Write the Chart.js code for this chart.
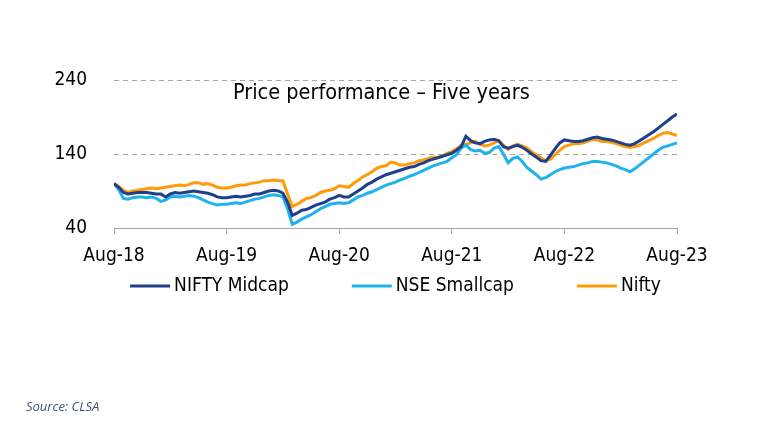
<!DOCTYPE html>
<html>
<head>
<meta charset="utf-8">
<script src="https://cdn.jsdelivr.net/npm/chart.js@4"></script>
<style>
  body { margin: 0; background: #fff; }
  #wrap { position: relative; width: 760px; height: 428px; }
  #source {
    position: absolute; left: 26px; top: 397px;
    font: italic 13px "Open Sans", "Liberation Sans", sans-serif;
    color: #44546A;
  }
</style>
</head>
<body>
<div id="wrap">
  <canvas id="myChart" width="760" height="428"></canvas>
  <div id="source">Source: CLSA</div>
</div>
<script>
// values rebased to 100 at Aug-18, read every half month
const tickLabels = ['Aug-18', 'Aug-19', 'Aug-20', 'Aug-21', 'Aug-22', 'Aug-23']
const seriesNames = ['NIFTY Midcap', 'NSE Smallcap', 'Nifty']
const seriesColors = ['#1F3F8A', '#1EB2EE', '#FF9A0A']

const midcap = [
  100, 95, 88, 86, 87, 88, 88, 88, 87, 86, 86, 82, 86, 88, 87, 88, 89, 90, 89, 88, 87, 85, 82, 81,
  81, 82, 83, 82, 83, 84, 86, 86, 88, 90, 91, 90, 87, 75, 57, 60, 64, 65, 68, 71, 73, 75, 79, 81,
  84, 82, 82, 86, 90, 94, 99, 102, 106, 109, 112, 114, 116, 118, 120, 122, 123, 126, 128, 131, 133, 135, 137, 139,
  141, 145, 150, 164, 158, 155, 154, 157, 159, 160, 158, 150, 148, 150, 152, 149, 145, 140, 136, 131, 130, 138, 147, 155,
  159, 158, 157, 157, 158, 160, 162, 163, 161, 160, 159, 157, 155, 153, 152, 154, 158, 162, 166, 170, 175, 180, 185, 190,
  194
]
const smallcap = [
  100, 92, 80, 79, 81, 82, 82, 81, 82, 80, 76, 78, 82, 83, 82, 83, 84, 83, 81, 78, 75, 73, 71, 72,
  72, 73, 74, 73, 75, 77, 79, 80, 82, 84, 85, 84, 82, 66, 45, 48, 52, 55, 58, 62, 66, 69, 72, 73,
  74, 73, 74, 78, 82, 84, 87, 89, 92, 95, 98, 100, 102, 105, 107, 110, 112, 115, 118, 121, 124, 126, 128, 130,
  135, 139, 148, 152, 146, 144, 145, 141, 142, 148, 150, 140, 128, 134, 136, 130, 122, 117, 112, 106, 108, 112, 116, 119,
  121, 122, 123, 125, 127, 128, 130, 130, 129, 128, 126, 124, 121, 119, 116, 120, 125, 130, 135, 140, 145, 149, 151, 153,
  155
]
const nifty = [
  100, 96, 91, 88, 90, 91, 92, 93, 94, 93, 94, 95, 96, 97, 98, 97, 99, 101, 101, 99, 100, 98, 95, 94,
  94, 95, 97, 98, 98, 100, 101, 102, 104, 104, 105, 104, 104, 86, 69, 72, 76, 80, 81, 84, 88, 90, 91, 93,
  97, 96, 95, 100, 104, 109, 112, 116, 121, 123, 124, 129, 128, 125, 125, 127, 128, 131, 132, 134, 136, 135, 137, 141,
  143, 147, 152, 153, 155, 157, 153, 151, 152, 155, 158, 152, 146, 151, 153, 151, 148, 143, 139, 135, 131, 133, 139, 145,
  150, 152, 154, 154, 155, 157, 160, 159, 157, 157, 156, 154, 152, 150, 149, 150, 152, 155, 158, 161, 165, 168, 169, 167,
  165
]

const FONT = '"DejaVu Sans Condensed", "Liberation Sans", sans-serif'
const GREY = '#A6A6A6'

const toPoints = values => values.map((v, i) => ({ x: i / 2, y: v }))

// title sits inside the plot, legend is a row of short lines under the axis
const overlay = {
  id: 'overlay',
  afterDraw(chart) {
    const { ctx, chartArea } = chart
    ctx.save()
    ctx.fillStyle = '#000'
    ctx.textBaseline = 'middle'
    ctx.font = '21.5px ' + FONT
    ctx.fillText('Price performance \u2013 Five years', chartArea.left + 119, chartArea.top + 13)

    ctx.font = '19px ' + FONT
    const lineLen = 40, gap = 4, spacing = 63
    const widths = seriesNames.map(n => lineLen + gap + ctx.measureText(n).width)
    const total = widths.reduce((a, b) => a + b, 0) + spacing * (widths.length - 1)
    let x = (chartArea.left + chartArea.right) / 2 - total / 2
    const y = chartArea.bottom + 58
    chart.data.datasets.forEach((ds, i) => {
      ctx.strokeStyle = ds.borderColor
      ctx.lineWidth = 3
      ctx.beginPath()
      ctx.moveTo(x, y)
      ctx.lineTo(x + lineLen, y)
      ctx.stroke()
      ctx.fillText(ds.label, x + lineLen + gap, y)
      x += widths[i] + spacing
    })
    ctx.restore()
  }
}

new Chart('myChart', {
  type: 'line',
  data: {
    datasets: [midcap, smallcap, nifty].map((values, i) => ({
      label: seriesNames[i],
      data: toPoints(values),
      borderColor: seriesColors[i],
      backgroundColor: seriesColors[i],
      borderWidth: 3,
      pointRadius: 0,
      tension: 0
    }))
  },
  options: {
    responsive: false,
    animation: false,
    devicePixelRatio: 1,
    layout: { padding: { left: 0, top: 80, right: 83, bottom: 160 } },
    plugins: {
      legend: { display: false },
      tooltip: { enabled: false }
    },
    scales: {
      x: {
        type: 'linear',
        min: 0,
        max: 60,
        afterFit: scale => { scale.height = 40 },
        ticks: {
          stepSize: 12,
          maxRotation: 0,
          padding: 11,
          color: '#000',
          font: { family: FONT, size: 19 },
          callback: v => tickLabels[v / 12]
        },
        grid: { drawOnChartArea: false, tickLength: 6, color: GREY },
        border: { display: true, color: GREY, width: 1 }
      },
      y: {
        min: 40,
        max: 240,
        afterFit: scale => { scale.width = 114 },
        ticks: {
          stepSize: 100,
          padding: 27,
          color: '#000',
          font: { family: FONT, size: 19 }
        },
        grid: {
          drawTicks: false,
          color: ctx => ctx.tick && ctx.tick.value === 40 ? 'rgba(0,0,0,0)' : GREY
        },
        border: { display: false, dash: [5, 4] }
      }
    }
  },
  plugins: [overlay]
})
</script>
</body>
</html>
